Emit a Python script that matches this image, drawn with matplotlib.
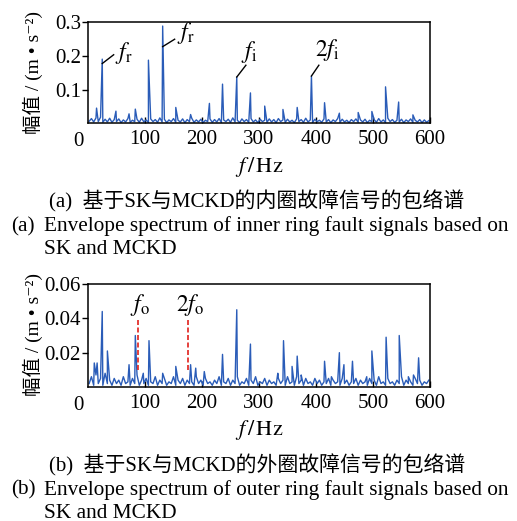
import matplotlib
matplotlib.use('Agg')
import matplotlib.pyplot as plt
import numpy as np

plt.rcParams['font.family'] = ['Liberation Serif', 'Noto Sans CJK SC', 'DejaVu Sans']
plt.rcParams['mathtext.fontset'] = 'stix'

# frequency grid of the noise floor (Hz)
freq_grid = np.arange(2, 600, 4)

# (a) inner ring: noise floor, x 0.001 m/s^2
noise_a = [6, 14, 4, 16, 5, 18, 3, 12, 4, 15,
           3, 11, 5, 13, 2, 10, 4, 14, 3, 9,
           5, 12, 3, 15, 4, 10, 2, 13, 5, 11,
           3, 16, 4, 12, 2, 10, 5, 14, 3, 9,
           4, 13, 2, 11, 5, 15, 3, 10, 4, 12,
           2, 9, 5, 13, 3, 11, 4, 14, 2, 10,
           5, 12, 3, 16, 4, 9, 2, 13, 5, 11,
           3, 14, 4, 10, 2, 12, 5, 9, 3, 13,
           4, 11, 2, 14, 5, 10, 3, 12, 4, 9,
           2, 13, 5, 11, 3, 15, 4, 10, 2, 12,
           5, 9, 3, 13, 4, 11, 2, 10, 5, 14,
           3, 12, 4, 9, 2, 11, 5, 13, 3, 10,
           4, 12, 2, 9, 5, 11, 3, 14, 4, 10,
           2, 15, 5, 11, 3, 9, 4, 12, 2, 10,
           5, 13, 3, 9, 4, 11, 2, 10, 3, 8]
peaks_a_f = [15, 25, 49, 72, 83, 106, 131, 154, 180, 213, 236, 261,
             285, 310, 342, 367, 392, 415, 441, 474, 498, 522, 545, 570]
peaks_a_v = [0.045, 0.190, 0.036, 0.028, 0.042, 0.187, 0.288, 0.047,
             0.026, 0.059, 0.116, 0.137, 0.090, 0.051, 0.041, 0.047,
             0.140, 0.061, 0.030, 0.032, 0.035, 0.108, 0.063, 0.025]

# (b) outer ring
noise_b = [2, 6, 1, 7, 2, 5, 1, 8, 2, 4,
           1, 5, 2, 4, 1, 6, 2, 3, 1, 5,
           2, 7, 1, 4, 2, 5, 1, 3, 2, 6,
           1, 4, 2, 5, 1, 3, 2, 6, 1, 4,
           2, 5, 1, 4, 2, 3, 1, 6, 2, 4,
           1, 5, 2, 3, 1, 4, 2, 6, 1, 3,
           2, 5, 1, 4, 2, 6, 1, 3, 2, 5,
           1, 4, 2, 6, 1, 3, 2, 5, 1, 4,
           2, 3, 1, 5, 2, 4, 1, 6, 2, 3,
           1, 6, 2, 4, 1, 5, 2, 3, 1, 5,
           2, 4, 1, 3, 2, 5, 1, 4, 2, 3,
           1, 5, 2, 4, 1, 3, 2, 5, 1, 4,
           2, 3, 1, 5, 2, 4, 1, 6, 2, 3,
           1, 5, 2, 3, 1, 4, 2, 6, 1, 4,
           2, 3, 1, 5, 2, 4, 1, 3, 2, 4]
peaks_b_f = [11, 16, 25, 34, 72, 83, 97, 107, 131, 154, 180, 189, 204,
             236, 261, 285, 333, 343, 358, 367, 374, 415, 427, 441, 449,
             464, 489, 498, 523, 546, 562, 571, 580]
peaks_b_v = [0.014, 0.014, 0.044, 0.021, 0.013, 0.030, 0.008, 0.027,
             0.008, 0.012, 0.013, 0.011, 0.009, 0.019, 0.045, 0.025,
             0.008, 0.027, 0.012, 0.018, 0.007, 0.015, 0.006, 0.020,
             0.013, 0.015, 0.006, 0.021, 0.029, 0.030, 0.006, 0.007, 0.017]

# fault characteristic frequencies marked in (b)
fo_marks = [88, 176]
fo_labels = [r'$f_\mathrm{o}$', r'$2f_\mathrm{o}$']


def spectrum(noise, pf, pv):
    f = np.concatenate([freq_grid, pf])
    v = np.concatenate([np.array(noise) * 0.001, pv])
    order = np.argsort(f, kind='stable')
    return f[order], v[order]


W, H = 517, 521
fig = plt.figure(figsize=(W / 100, H / 100), dpi=100)
blue = '#2a5cb8'


def setup(ax, yticks, ylabels):
    ax.set_xlim(0, 600)
    ax.set_xticks([100, 200, 300, 400, 500, 600])
    ax.set_yticks(yticks)
    ax.set_yticklabels(ylabels)
    ax.tick_params(axis='x', direction='in', length=4, width=1, labelsize=15, pad=5)
    ax.tick_params(axis='y', direction='out', length=4, width=1, labelsize=15, pad=1)
    for s in ax.spines.values():
        s.set_linewidth(1.1)


# panel (a)
ax1 = fig.add_axes([88 / W, 1 - 123.3 / H, 342 / W, 101.3 / H])
fa, va = spectrum(noise_a, peaks_a_f, peaks_a_v)
ax1.plot(fa, va, color=blue, lw=1.0)
ax1.set_ylim(0, 0.3)
setup(ax1, [0.1, 0.2, 0.3], ['0.1', '0.2', '0.3'])

lines_a = [((25, 0.177), (45, 0.203), (47, 0.207), r'$f_\mathrm{r}$'),
           ((131, 0.227), (152, 0.249), (157, 0.266), r'$f_\mathrm{r}$'),
           ((261, 0.137), (277, 0.172), (268, 0.210), r'$f_\mathrm{i}$'),
           ((392, 0.140), (405, 0.172), (398, 0.217), r'$2f_\mathrm{i}$')]
for p0, p1, pt, lab in lines_a:
    ax1.plot([p0[0], p1[0]], [p0[1], p1[1]], color='black', lw=1)
    ax1.text(pt[0], pt[1], lab, fontsize=17, ha='left', va='center')

# panel (b)
ax2 = fig.add_axes([88 / W, 1 - 387 / H, 342 / W, 103 / H])
fb, vb = spectrum(noise_b, peaks_b_f, peaks_b_v)
ax2.plot(fb, vb, color=blue, lw=1.0)
ax2.set_ylim(0, 0.06)
setup(ax2, [0.02, 0.04, 0.06], ['0.02', '0.04', '0.06'])
ax2.vlines(fo_marks, 0.010, 0.040, colors='#e0201b', linestyles=(0, (3, 1.5)), lw=1.2)
for x, lab in zip(fo_marks, fo_labels):
    ax2.text(x + 3, 0.0475, lab, fontsize=17, ha='center', va='center')


def ftext(x, y, s, **kw):
    fig.text(x / W, 1 - y / H, s, **kw)


# shared origin labels, axis labels and captions
for yb, ylab_y in [(141.7, 72), (405, 335)]:
    ftext(78, yb, '0', fontsize=15, ha='center', va='center')
    ftext(33, ylab_y, '幅值 / (m • s⁻²)', fontsize=14, rotation=90,
          ha='center', va='center')
    ftext(259, yb + 25, r'$f\,/\,\mathrm{Hz}$', fontsize=16, ha='center', va='center')

caps = [('(a)', '基于SK与MCKD的内圈故障信号的包络谱',
         'Envelope spectrum of inner ring fault signals based on', 201.5),
        ('(b)', '基于SK与MCKD的外圈故障信号的包络谱',
         'Envelope spectrum of outer ring fault signals based on', 465)]
for tag, zh, en, y in caps:
    ftext(49, y, tag + '  ' + zh, fontsize=15, ha='left', va='center')
    ftext(11, y + 25, tag, fontsize=15.3, ha='left', va='center')
    ftext(44, y + 25, en, fontsize=15.3, ha='left', va='center')
    ftext(44, y + 48, 'SK and MCKD', fontsize=15.3, ha='left', va='center')

fig.savefig('out.png', dpi=100)
